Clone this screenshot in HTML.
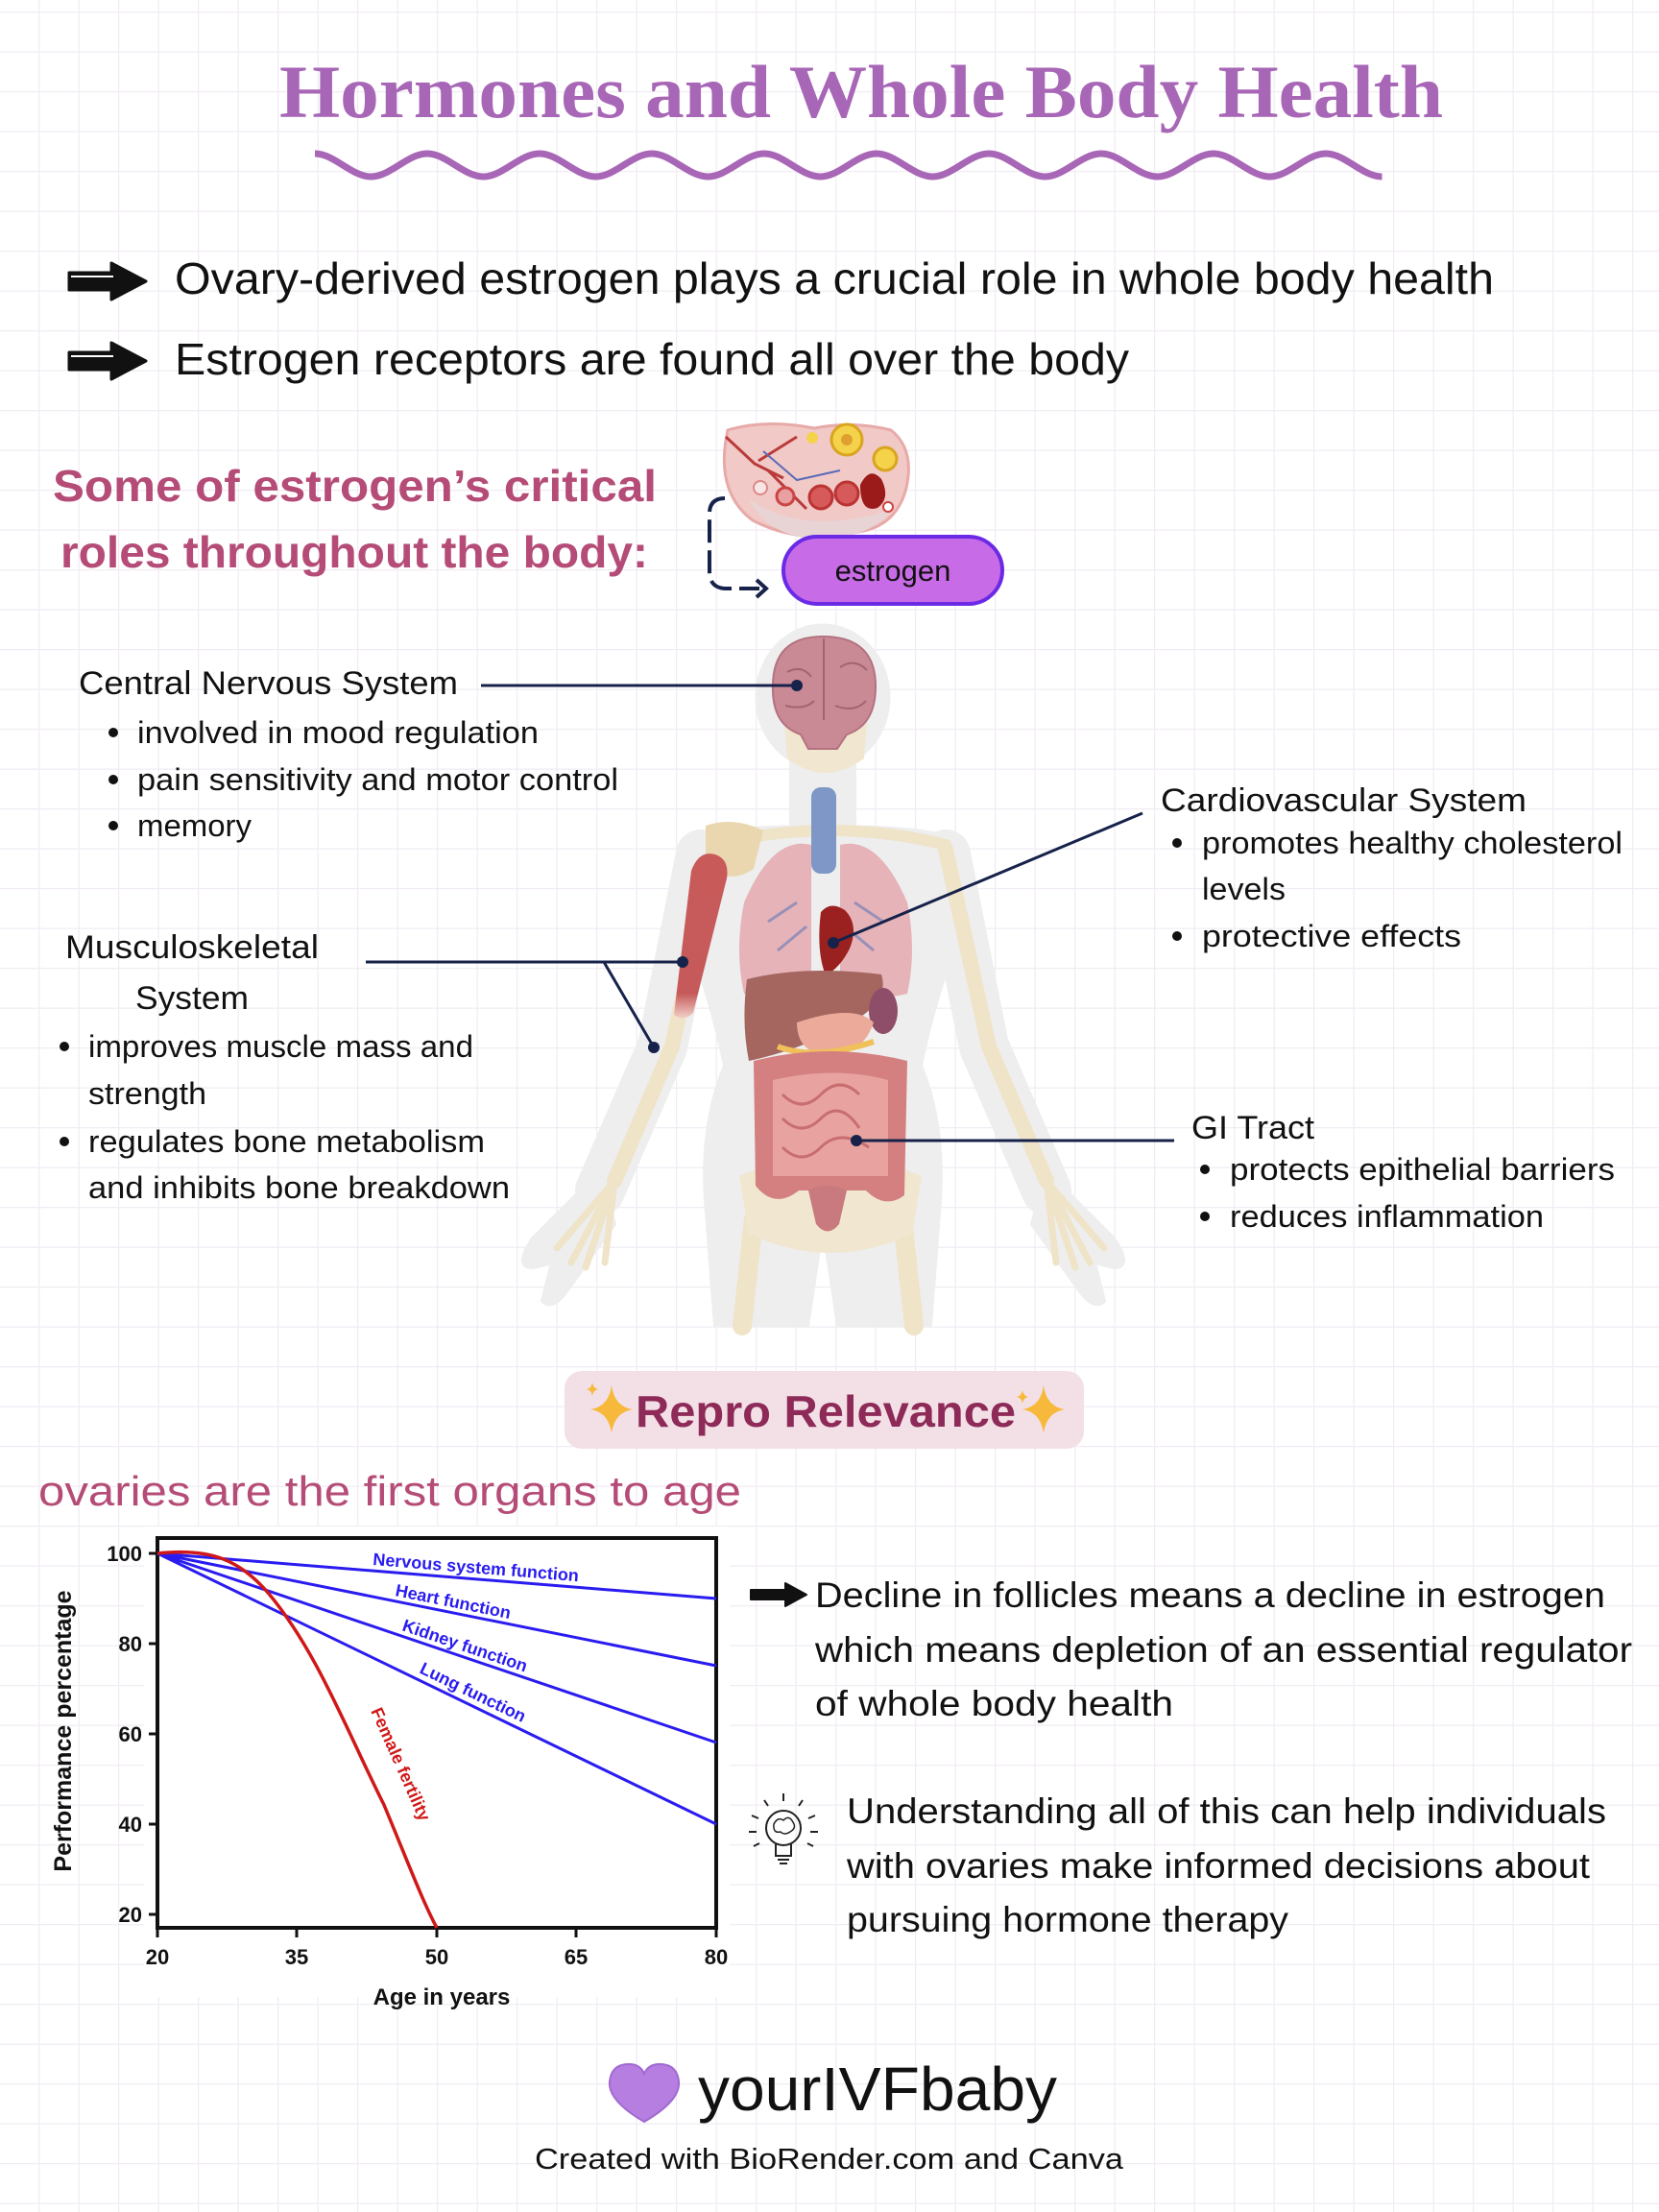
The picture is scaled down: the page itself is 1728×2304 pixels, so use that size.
<!DOCTYPE html>
<html><head><meta charset="utf-8"><style>
html,body{margin:0;padding:0;background:#fff}
svg{display:block}
.t{font-family:"Liberation Sans",sans-serif;fill:#111}
</style></head><body>
<svg width="1728" height="2304" viewBox="0 0 1728 2304" xmlns="http://www.w3.org/2000/svg">
<defs>
<pattern id="g" width="41.5" height="41.5" patternUnits="userSpaceOnUse" x="-1.5" y="12">
<path d="M0 0H41.5M0 0V41.5" stroke="#f1ecf4" stroke-width="2.5" fill="none"/>
</pattern>
<linearGradient id="mus" x1="0" y1="0" x2="0" y2="1"><stop offset="0" stop-color="#c85a5a"/><stop offset="0.85" stop-color="#c65a5a"/><stop offset="1" stop-color="#f2d0c8"/></linearGradient>
</defs>
<rect width="1728" height="2304" fill="#fff"/>
<rect width="1728" height="2304" fill="url(#g)"/>

<!-- Title -->
<text x="897" y="122" text-anchor="middle" font-family="Liberation Serif,serif" font-weight="bold" font-size="78" fill="#a866b6" textLength="1212" lengthAdjust="spacingAndGlyphs">Hormones and Whole Body Health</text>
<path d="M328 160 c20 0 38 24 58.5 24 c20 0 38 -24 58.5 -24 c20 0 38 24 58.5 24 c20 0 38 -24 58.5 -24 c20 0 38 24 58.5 24 c20 0 38 -24 58.5 -24 c20 0 38 24 58.5 24 c20 0 38 -24 58.5 -24 c20 0 38 24 58.5 24 c20 0 38 -24 58.5 -24 c20 0 38 24 58.5 24 c20 0 38 -24 58.5 -24 c20 0 38 24 58.5 24 c20 0 38 -24 58.5 -24 c20 0 38 24 58.5 24 c20 0 38 -24 58.5 -24 c20 0 38 24 58.5 24 c20 0 38 -24 58.5 -24 c20 0 38 24 58.5 24" fill="none" stroke="#a866b6" stroke-width="7"/>

<!-- bullets -->
<g id="arr"><path d="M72 284 h44 v-10 l36 19 l-36 19 v-10 h-44z" fill="#111" stroke="#111" stroke-width="3" stroke-linejoin="round"/><path d="M74 288 h44" stroke="#fff" stroke-width="2"/></g>
<use href="#arr" y="83"/>
<text class="t" x="182" y="306" font-size="46" textLength="1374" lengthAdjust="spacingAndGlyphs">Ovary-derived estrogen plays a crucial role in whole body health</text>
<text class="t" x="182" y="390" font-size="46" textLength="994" lengthAdjust="spacingAndGlyphs">Estrogen receptors are found all over the body</text>

<text x="55" y="522" font-family="Liberation Sans,sans-serif" font-weight="bold" font-size="46" fill="#b54c77" textLength="629" lengthAdjust="spacingAndGlyphs">Some of estrogen’s critical</text>
<text x="63" y="591" font-family="Liberation Sans,sans-serif" font-weight="bold" font-size="46" fill="#b54c77" textLength="612" lengthAdjust="spacingAndGlyphs">roles throughout the body:</text>

<!-- ovary -->
<g>
<path d="M758 448 q40 -12 90 -2 q40 -8 80 2 q25 20 16 60 q-10 40 -50 46 q-60 14 -110 -12 q-40 -30 -26 -94z" fill="#f1c9c6" stroke="#e7aaa8" stroke-width="3"/>
<path d="M780 520 q60 40 150 10 q-20 30 -80 32 q-50 -4 -70 -42z" fill="#e8d4d4"/>
<path d="M756 455 l30 28 l30 15 M790 480 l40 -25 M800 490 l40 40" stroke="#b93b3b" stroke-width="3" fill="none"/>
<path d="M795 470 l35 30 l45 -10" stroke="#5a6bb8" stroke-width="2" fill="none"/>
<circle cx="882" cy="458" r="16" fill="#f4d24a" stroke="#d9a520" stroke-width="3"/><circle cx="882" cy="458" r="6" fill="#e0a030"/>
<circle cx="922" cy="478" r="12" fill="#f4d24a" stroke="#d9a520" stroke-width="3"/>
<circle cx="846" cy="456" r="6" fill="#f4d24a"/>
<circle cx="792" cy="508" r="7" fill="#f8e6e6" stroke="#d88" stroke-width="2"/>
<circle cx="818" cy="517" r="9" fill="#e9a0a0" stroke="#c44" stroke-width="3"/>
<circle cx="855" cy="518" r="12" fill="#d65a5a" stroke="#b33" stroke-width="3"/>
<circle cx="882" cy="514" r="12" fill="#d65a5a" stroke="#b33" stroke-width="3"/>
<path d="M896 505 q10 -20 22 -6 q10 20 -4 30 q-18 6 -18 -24z" fill="#9b1a1a"/>
<circle cx="925" cy="528" r="5" fill="#fff" stroke="#c44" stroke-width="2"/>
</g>
<!-- bracket -->
<path d="M755 519 q-16 0 -16 16 v60 q0 18 18 18 h34" fill="none" stroke="#16224a" stroke-width="4" stroke-dasharray="24 8"/>
<path d="M788 604 l10 9 l-10 9" fill="none" stroke="#16224a" stroke-width="4"/>
<rect x="816" y="559" width="228" height="70" rx="35" fill="#c86be6" stroke="#6a2ae6" stroke-width="4"/>
<text class="t" x="930" y="605" font-size="31" text-anchor="middle">estrogen</text>

<!-- body figure -->
<g>
<g fill="#eeeeee" stroke="#eeeeee" stroke-linejoin="round" stroke-linecap="round">
<ellipse cx="857" cy="726" rx="70" ry="76"/>
<rect x="822" y="780" width="70" height="95" stroke-width="0"/>
<path d="M712 880 q10 -20 145 -20 q135 0 145 20 l-12 120 q-20 60 -30 110 q25 60 20 140 l-10 131 h-98 l-15 -100 l-15 100 h-98 l-10 -131 q-5 -80 20 -140 q-10 -50 -30 -110z" stroke-width="2"/>
<path d="M730 890 L690 1090 L625 1240" fill="none" stroke-width="52"/>
<path d="M985 890 L1025 1090 L1090 1240" fill="none" stroke-width="52"/>
<path d="M625 1220 l-70 70 q-20 30 0 30 l20 -5 l-10 40 q10 10 25 -10 l50 -70 z" stroke-width="4"/>
<path d="M1090 1220 l70 70 q20 30 0 30 l-20 -5 l10 40 q-10 10 -25 -10 l-50 -70 z" stroke-width="4"/>
</g>
<g stroke="#efe3c8" stroke-linecap="round" fill="none">
<path d="M745 885 L700 1090 L640 1230" stroke-width="16"/>
<path d="M985 885 L1030 1090 L1090 1230" stroke-width="16"/>
<path d="M640 1230 l-60 70 M640 1230 l-45 85 M640 1230 l-30 90 M640 1230 l-10 85" stroke-width="7"/>
<path d="M1090 1230 l60 70 M1090 1230 l45 85 M1090 1230 l30 90 M1090 1230 l10 85" stroke-width="7"/>
<path d="M785 1270 l-12 111 M940 1270 l12 111" stroke-width="20"/>
<path d="M745 880 q120 -30 240 0" stroke-width="12"/>
</g>
<path d="M770 1225 q90 -40 190 0 l-10 60 q-85 40 -170 0z" fill="#f1e6cf"/>
<path d="M815 730 q40 60 90 0 l-5 60 q-40 30 -80 0z" fill="#f1e6cf"/>
<path d="M805 715 q0 -52 52 -52 q55 0 55 52 q0 40 -30 50 l-10 15 h-30 l-8 -15 q-30 -10 -29 -50z" fill="#c98a95" stroke="#b37280" stroke-width="2"/>
<path d="M858 665 v85 M820 700 q15 -8 25 5 M875 695 q15 -10 28 3 M818 735 q20 5 30 -5 M870 735 q20 8 32 -5" stroke="#a66272" stroke-width="2" fill="none"/>
<rect x="845" y="820" width="26" height="90" rx="10" fill="#7f97c6"/>
<path d="M845 880 q-40 -10 -70 60 q-10 50 0 95 q40 10 70 -5z" fill="#e4a8ae" opacity="0.85"/>
<path d="M875 880 q40 -10 70 60 q10 50 0 95 q-40 10 -70 -5z" fill="#e4a8ae" opacity="0.85"/>
<path d="M800 960 l30 -20 M810 990 l30 -25 M920 960 l-30 -20 M910 990 l-30 -25" stroke="#9890b8" stroke-width="3"/>
<path d="M735 860 q30 -10 60 5 l-10 40 q-30 20 -50 -10z" fill="#ead7b0"/>
<path d="M745 890 q15 5 12 25 l-35 140 q-10 10 -20 2 l18 -150 q8 -22 25 -17z" fill="url(#mus)"/>
<path d="M855 950 q10 -12 25 -2 q15 15 5 40 q-10 20 -25 28 q-10 -25 -5 -66z" fill="#9b2020"/>
<path d="M778 1020 q60 -15 140 -5 q10 30 -40 55 q-50 25 -98 35 q-8 -40 -2 -85z" fill="#a4665e"/>
<ellipse cx="920" cy="1053" rx="15" ry="24" fill="#8e4e6a"/>
<path d="M830 1065 q60 -20 80 0 q-10 30 -40 35 q-40 0 -40 -35z" fill="#ebaa9a"/>
<path d="M810 1090 q40 15 100 -5" stroke="#f0c05a" stroke-width="6" fill="none"/>
<path d="M785 1105 q80 -20 160 0 l-3 140 q-20 15 -40 -5 h-70 q-25 20 -45 -5z" fill="#d47f80"/>
<path d="M805 1125 q65 -15 120 0 v100 h-120z" fill="#e8a3a0"/>
<path d="M815 1140 q20 20 40 0 t40 0 M815 1165 q20 20 40 0 t40 10 M815 1195 q20 20 40 0 t50 0" stroke="#c86e70" stroke-width="3" fill="none"/>
<path d="M842 1240 q20 -10 40 0 l-8 35 q-12 15 -24 0z" fill="#c97a7e"/>
</g>
<g stroke="#16224a" stroke-width="3" fill="none">
<path d="M501 714 H830"/>
<path d="M1190 847 L868 982"/>
<path d="M381 1002 H711 M629 1002 L681 1091"/>
<path d="M1223 1188 H892"/>
</g>
<g fill="#16224a">
<circle cx="830" cy="714" r="6"/><circle cx="868" cy="982" r="6"/><circle cx="892" cy="1188" r="6"/><circle cx="711" cy="1002" r="6"/><circle cx="681" cy="1091" r="6"/>
</g>

<g class="t" font-size="34">
<text x="82" y="723" textLength="395" lengthAdjust="spacingAndGlyphs">Central Nervous System</text>
<text x="143" y="774" font-size="32" textLength="418" lengthAdjust="spacingAndGlyphs">involved in mood regulation</text>
<text x="143" y="823" font-size="32" textLength="501" lengthAdjust="spacingAndGlyphs">pain sensitivity and motor control</text>
<text x="143" y="871" font-size="32" textLength="119" lengthAdjust="spacingAndGlyphs">memory</text>
<text x="1209" y="845" textLength="381" lengthAdjust="spacingAndGlyphs">Cardiovascular System</text>
<text x="1252" y="889" font-size="32" textLength="438" lengthAdjust="spacingAndGlyphs">promotes healthy cholesterol</text>
<text x="1252" y="937" font-size="32" textLength="87" lengthAdjust="spacingAndGlyphs">levels</text>
<text x="1252" y="986" font-size="32" textLength="270" lengthAdjust="spacingAndGlyphs">protective effects</text>
<text x="68" y="998" textLength="264" lengthAdjust="spacingAndGlyphs">Musculoskeletal</text>
<text x="141" y="1051" textLength="118" lengthAdjust="spacingAndGlyphs">System</text>
<text x="92" y="1101" font-size="32" textLength="401" lengthAdjust="spacingAndGlyphs">improves muscle mass and</text>
<text x="92" y="1150" font-size="32" textLength="123" lengthAdjust="spacingAndGlyphs">strength</text>
<text x="92" y="1200" font-size="32" textLength="413" lengthAdjust="spacingAndGlyphs">regulates bone metabolism</text>
<text x="92" y="1248" font-size="32" textLength="439" lengthAdjust="spacingAndGlyphs">and inhibits bone breakdown</text>
<text x="1241" y="1186" textLength="128" lengthAdjust="spacingAndGlyphs">GI Tract</text>
<text x="1281" y="1229" font-size="32" textLength="401" lengthAdjust="spacingAndGlyphs">protects epithelial barriers</text>
<text x="1281" y="1278" font-size="32" textLength="327" lengthAdjust="spacingAndGlyphs">reduces inflammation</text>
</g>
<g fill="#111">
<circle cx="118" cy="763" r="5"/><circle cx="118" cy="812" r="5"/><circle cx="118" cy="860" r="5"/>
<circle cx="1226" cy="878" r="5"/><circle cx="1226" cy="975" r="5"/>
<circle cx="67" cy="1090" r="5"/><circle cx="67" cy="1189" r="5"/>
<circle cx="1255" cy="1218" r="5"/><circle cx="1255" cy="1267" r="5"/>
</g>

<rect x="588" y="1428" width="541" height="81" rx="18" fill="#f3e0e7"/>
<g fill="#f6b93b">
<path d="M637 1443 q3 22 22 25 q-19 3 -22 25 q-3 -22 -22 -25 q19 -3 22 -25z"/>
<path d="M1087 1443 q3 22 22 25 q-19 3 -22 25 q-3 -22 -22 -25 q19 -3 22 -25z"/>
<path d="M1065 1448 q1 6 6 7 q-5 1 -6 7 q-1 -6 -6 -7 q5 -1 6 -7z"/>
<path d="M617 1440 q1 6 6 7 q-5 1 -6 7 q-1 -6 -6 -7 q5 -1 6 -7z"/>
</g>
<text x="662" y="1486" font-family="Liberation Sans,sans-serif" font-weight="bold" font-size="46" fill="#8e2a57" textLength="396" lengthAdjust="spacingAndGlyphs">Repro Relevance</text>

<text x="40" y="1568" font-family="Liberation Sans,sans-serif" font-size="44" fill="#b54c77" textLength="732" lengthAdjust="spacingAndGlyphs">ovaries are the first organs to age</text>

<rect x="150" y="1590" width="610" height="490" fill="#fff"/>
<rect x="164" y="1602" width="582" height="406" fill="#fff" stroke="#111" stroke-width="4"/>
<g stroke="#111" stroke-width="3">
<path d="M155 1618h9M155 1712h9M155 1806h9M155 1900h9M155 1994h9"/>
<path d="M164 2008v10M309 2008v10M455 2008v10M600 2008v10M746 2008v10"/>
</g>
<g font-family="Liberation Sans,sans-serif" font-weight="bold" font-size="22" fill="#111" text-anchor="end">
<text x="148" y="1626">100</text><text x="148" y="1720">80</text><text x="148" y="1814">60</text><text x="148" y="1908">40</text><text x="148" y="2002">20</text>
</g>
<g font-family="Liberation Sans,sans-serif" font-weight="bold" font-size="22" fill="#111" text-anchor="middle">
<text x="164" y="2046">20</text><text x="309" y="2046">35</text><text x="455" y="2046">50</text><text x="600" y="2046">65</text><text x="746" y="2046">80</text>
<text x="460" y="2088" font-size="24">Age in years</text>
<text transform="translate(74 1803) rotate(-90)" font-size="25">Performance percentage</text>
</g>
<g stroke="#2a1cf0" stroke-width="3" fill="none">
<path d="M164 1618L746 1665M164 1618L746 1735M164 1618L746 1815M164 1618L746 1900"/>
</g>
<path d="M164 1618 C220 1612 250 1625 280 1660 C330 1720 360 1800 400 1880 C425 1940 440 1980 455 2008" stroke="#d01818" stroke-width="3.5" fill="none"/>
<g font-family="Liberation Sans,sans-serif" font-weight="bold" font-size="18" fill="#2a1cf0">
<text transform="translate(388 1630) rotate(4.6)">Nervous system function</text>
<text transform="translate(411 1662) rotate(11.4)">Heart function</text>
<text transform="translate(418 1698) rotate(18.7)">Kidney function</text>
<text transform="translate(436 1742) rotate(25.8)">Lung function</text>
</g>
<text transform="translate(386 1782) rotate(66)" font-family="Liberation Sans,sans-serif" font-weight="bold" font-size="18" fill="#d01818">Female fertility</text>

<path d="M782 1656 h36 v-7 l22 12 l-22 12 v-7 h-36z" fill="#111" stroke="#111" stroke-width="2" stroke-linejoin="round"/>
<g class="t" font-size="37">
<text x="849" y="1674" textLength="823" lengthAdjust="spacingAndGlyphs">Decline in follicles means a decline in estrogen</text>
<text x="849" y="1731" textLength="851" lengthAdjust="spacingAndGlyphs">which means depletion of an essential regulator</text>
<text x="849" y="1787" textLength="373" lengthAdjust="spacingAndGlyphs">of whole body health</text>
<text x="882" y="1899" textLength="791" lengthAdjust="spacingAndGlyphs">Understanding all of this can help individuals</text>
<text x="882" y="1956" textLength="774" lengthAdjust="spacingAndGlyphs">with ovaries make informed decisions about</text>
<text x="882" y="2012" textLength="460" lengthAdjust="spacingAndGlyphs">pursuing hormone therapy</text>
</g>
<g stroke="#222" stroke-width="2" fill="none">
<circle cx="816" cy="1904" r="18"/>
<path d="M808 1921 v12 h16 v-12 M810 1937 h12 M812 1941 h8"/>
<path d="M816 1876 v-8 M800 1881 l-4 -6 M832 1881 l4 -6 M790 1894 l-7 -3 M842 1894 l7 -3 M788 1908 h-8 M844 1908 h8 M791 1920 l-6 3 M841 1920 l6 3"/>
<path d="M806 1900 q4 -8 10 -4 q6 -6 10 2 q4 6 -3 10 q-6 4 -10 0 q-8 2 -7 -8z" stroke-width="1.5"/>
</g>

<path d="M671 2210 q-38 -22 -36 -42 q2 -18 20 -18 q12 0 16 10 q4 -10 16 -10 q18 0 20 18 q2 20 -36 42z" fill="#b57ee0" stroke="#a06ad0" stroke-width="2"/>
<text class="t" x="727" y="2198" font-size="64" textLength="374" lengthAdjust="spacingAndGlyphs">yourIVFbaby</text>
<text class="t" x="557" y="2259" font-size="31" textLength="613" lengthAdjust="spacingAndGlyphs">Created with BioRender.com and Canva</text>
</svg>
</body></html>
